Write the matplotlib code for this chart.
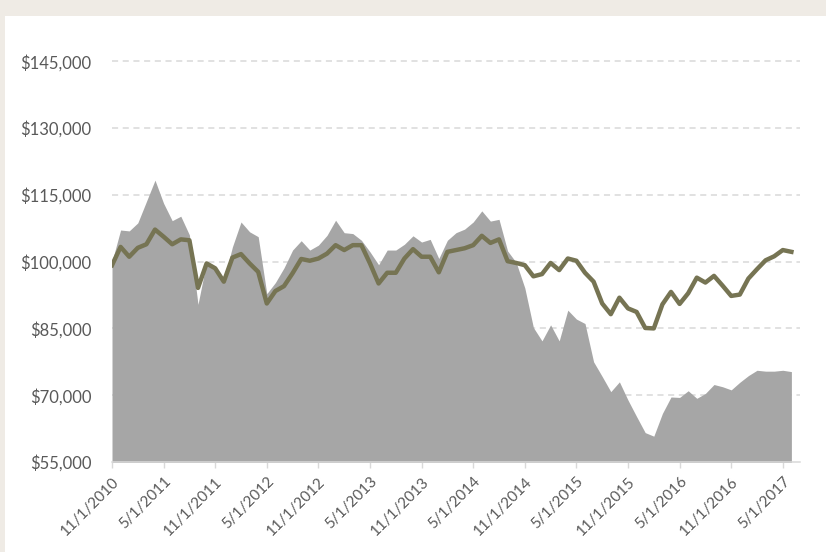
import matplotlib
matplotlib.use("Agg")
import matplotlib.pyplot as plt
from matplotlib.patches import Rectangle
from matplotlib.ticker import FuncFormatter

# monthly values, 11/1/2010 .. 6/1/2017
fund = [99200, 103300, 101100, 103100, 103900, 107200, 105600, 103900, 105000, 104800,
        94100, 99600, 98500, 95500, 100900, 101700, 99600, 97700, 90600, 93400,
        94500, 97400, 100600, 100200, 100700, 101800, 103700, 102600, 103700, 103700,
        99600, 95100, 97500, 97500, 100700, 102800, 101100, 101100, 97600, 102200,
        102600, 103000, 103700, 105800, 104200, 105000, 100100, 99700, 99200, 96700,
        97200, 99700, 98100, 100700, 100200, 97500, 95500, 90600, 88200, 91900,
        89500, 88700, 85100, 85000, 90400, 93200, 90500, 92900, 96400, 95300,
        96800, 94600, 92300, 92600, 96200, 98300, 100300, 101200, 102600, 102200]

benchmark = [100000, 107100, 106900, 108700, 113500, 118300, 113100, 109200, 110200, 106000,
             90400, 100000, 99000, 95800, 103300, 108900, 106700, 105600, 92800, 95300,
             98600, 102600, 104700, 102600, 103700, 105900, 109300, 106500, 106300, 104800,
             102200, 99300, 102600, 102600, 103900, 105800, 104400, 105000, 100700, 104800,
             106500, 107300, 108900, 111400, 109100, 109500, 102400, 99800, 94100, 85200,
             82200, 85800, 82200, 89100, 87100, 86100, 77500, 74200, 70800, 73000,
             68900, 65200, 61600, 60800, 65900, 69600, 69500, 71000, 69300, 70400,
             72400, 71900, 71200, 72900, 74400, 75600, 75400, 75400, 75600, 75300]

tick_labels = ["11/1/2010", "5/1/2011", "11/1/2011", "5/1/2012", "11/1/2012", "5/1/2013",
               "11/1/2013", "5/1/2014", "11/1/2014", "5/1/2015", "11/1/2015", "5/1/2016",
               "11/1/2016", "5/1/2017"]
y_ticks = [55000, 70000, 85000, 100000, 115000, 130000, 145000]

COLORS = {
    "bg": "#EFEBE5",
    "area": "#A6A6A6",
    "line": "#767453",
    "grid": "#D9D9D9",
    "text": "#595959",
}

plt.rcParams["font.family"] = ["Lato", "DejaVu Sans"]

W, H = 826, 552
fig = plt.figure(figsize=(W / 100, H / 100), dpi=100)
fig.patch.set_facecolor(COLORS["bg"])
fig.patches.append(Rectangle((5 / W, 0), 1, (H - 16) / H, transform=fig.transFigure,
                             facecolor="white", edgecolor="none", zorder=-1))

ax = fig.add_axes([112 / W, (H - 462) / H, (800 - 112) / W, (462 - 39) / H])
ax.set_facecolor("none")
ax.set_zorder(1)

x = list(range(len(fund)))
ax.fill_between(x, 0, benchmark, color=COLORS["area"], linewidth=0, zorder=2)
ax.plot(x, fund, color=COLORS["line"], lw=3.2, solid_joinstyle="round", zorder=3)

ax.set_xlim(0, 80)
ax.set_ylim(55000, 150000)
ax.set_yticks(y_ticks)
ax.yaxis.set_major_formatter(FuncFormatter(lambda v, _: f"${v:,.0f}"))
ax.set_xticks(range(0, 6 * len(tick_labels), 6))
ax.set_xticklabels(tick_labels, rotation=45, ha="right", va="top", rotation_mode="anchor")

for v in y_ticks[1:]:
    ax.axhline(v, color=COLORS["grid"], lw=1.1, dashes=(4, 3), zorder=1)

for side in ("top", "right", "left"):
    ax.spines[side].set_visible(False)
ax.spines["bottom"].set_color(COLORS["grid"])
ax.spines["bottom"].set_linewidth(1.1)
ax.spines["bottom"].set_zorder(4)

ax.tick_params(axis="y", length=0, pad=15, labelsize=12, labelcolor=COLORS["text"])
ax.tick_params(axis="x", length=4, width=1, color=COLORS["grid"], pad=5,
               labelsize=11, labelcolor=COLORS["text"])

fig.savefig("out.png", dpi=100, facecolor=fig.get_facecolor())
